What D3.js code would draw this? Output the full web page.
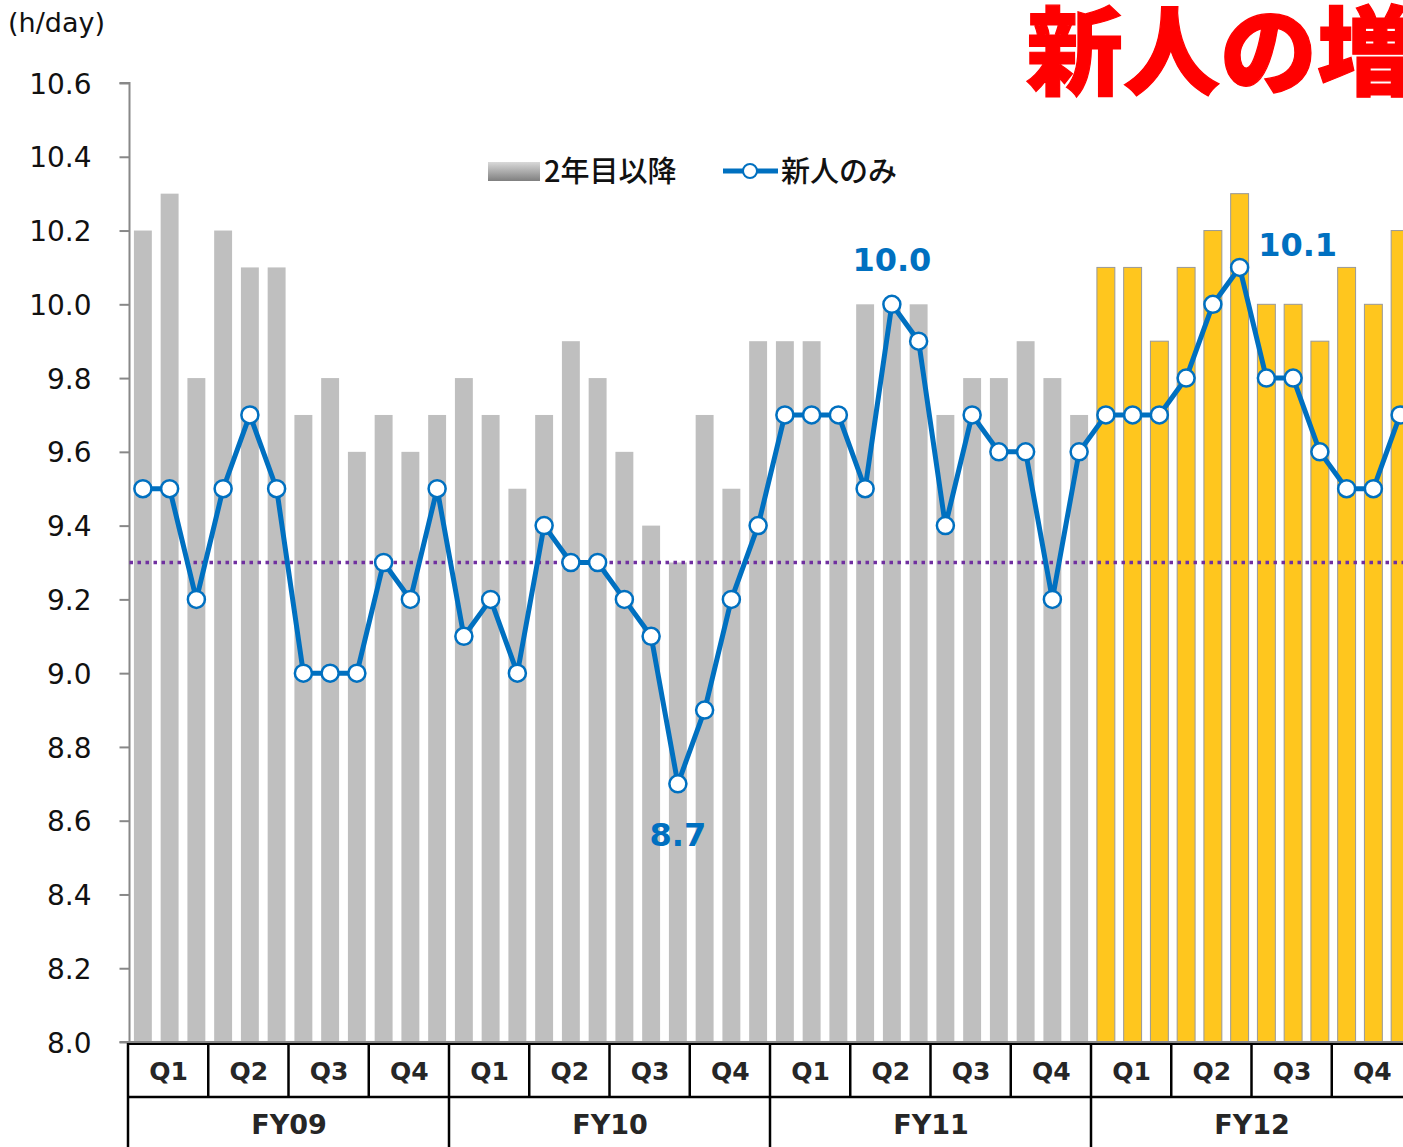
<!DOCTYPE html>
<html>
<head>
<meta charset="utf-8">
<script src="https://d3js.org/d3.v7.min.js"></script>
<style>
body { margin:0; background:#fff; overflow:hidden; }
svg { display:block; }
.ytick { font-family:"DejaVu Sans",sans-serif; font-size:28px; fill:#111; }
.cat { font-family:"DejaVu Sans",sans-serif; font-weight:bold; fill:#262626; }
.val { font-family:"DejaVu Sans",sans-serif; font-weight:bold; font-size:32px; fill:#0070C0; }
.leg { font-family:"Noto Sans CJK JP",sans-serif; font-weight:500; font-size:29px; fill:#111; }
</style>
</head>
<body>
<svg id="chart"></svg>
<script>
// months, FY09 Q1 .. FY12 Q4 (3 per quarter)
var years = ["FY09","FY10","FY11","FY12"];
var quarters = ["Q1","Q2","Q3","Q4"];
var yTicks = [8.0,8.2,8.4,8.6,8.8,9.0,9.2,9.4,9.6,9.8,10.0,10.2,10.4,10.6];

// 2年目以降 (bars)
var seniorHours = [10.2,10.3,9.8, 10.2,10.1,10.1, 9.7,9.8,9.6, 9.7,9.6,9.7,
                   9.8,9.7,9.5, 9.7,9.9,9.8, 9.6,9.4,9.3, 9.7,9.5,9.9,
                   9.9,9.9,9.7, 10.0,10.0,10.0, 9.7,9.8,9.8, 9.9,9.8,9.7,
                   10.1,10.1,9.9, 10.1,10.2,10.3, 10.0,10.0,9.9, 10.1,10.0,10.2];
// 新人のみ (line)
var newHours = [9.5,9.5,9.2, 9.5,9.7,9.5, 9.0,9.0,9.0, 9.3,9.2,9.5,
                9.1,9.2,9.0, 9.4,9.3,9.3, 9.2,9.1,8.7, 8.9,9.2,9.4,
                9.7,9.7,9.7, 9.5,10.0,9.9, 9.4,9.7,9.6, 9.6,9.2,9.6,
                9.7,9.7,9.7, 9.8,10.0,10.1, 9.8,9.8,9.6, 9.5,9.5,9.7];
var refLine = 9.3;
var callouts = [{idx:20, text:"8.7", dy:51}, {idx:28, text:"10.0", dy:-45}, {idx:41, text:"10.1", dy:-23, dx:58}];

var screen = {width:1403, height:1147};
var plot = {left:129.5, top:83, bottom:1042, step:26.75};

var svg = d3.select("#chart")
    .attr("width",screen.width)
    .attr("height",screen.height);

var idx = d3.range(newHours.length);

var xScale = d3.scaleBand()
    .domain(idx)
    .range([plot.left, plot.left + plot.step*idx.length])
    .paddingInner(0.33)
    .paddingOuter(0.165);

var yScale = d3.scaleLinear()
    .domain([8.0,10.6])
    .range([plot.bottom, plot.top]);

var defs = svg.append("defs");
var grad = defs.append("linearGradient")
    .attr("id","legGrad")
    .attr("x1",0).attr("y1",0).attr("x2",0).attr("y2",1);
grad.append("stop").attr("offset","0%").attr("stop-color","#d9d9d9");
grad.append("stop").attr("offset","100%").attr("stop-color","#7f7f7f");

// bars
svg.append("g")
    .selectAll("rect")
    .data(idx)
    .enter()
    .append("rect")
    .attr("x", function(i){return xScale(i)})
    .attr("y", function(i){return yScale(seniorHours[i])})
    .attr("width", xScale.bandwidth())
    .attr("height", function(i){return yScale(8.0) - yScale(seniorHours[i])})
    .style("fill", function(i){return i >= 36 ? "#FFC61E" : "#BFBFBF"})
    .style("stroke", function(i){return i >= 36 ? "#999" : "none"})
    .style("stroke-width", 1);

// y axis
var yAxis = d3.axisLeft(yScale)
    .tickValues(yTicks)
    .tickSize(10)
    .tickFormat(d3.format(".1f"));
var ax = svg.append("g")
    .attr("transform","translate(" + plot.left + ",0)")
    .call(yAxis);
ax.select(".domain").attr("stroke","#888").attr("stroke-width",2).attr("d","M-10," + plot.top + "H0V" + plot.bottom);
ax.selectAll(".tick line").attr("stroke","#888").attr("stroke-width",2);
ax.selectAll(".tick text")
    .attr("class","ytick")
    .attr("x",-38)
    .attr("dy","0.36em")
    .attr("font-size",null)
    .attr("font-family",null)
    .attr("fill",null);

svg.append("line")
    .attr("x1",plot.left-10).attr("x2",screen.width)
    .attr("y1",plot.bottom).attr("y2",plot.bottom)
    .attr("stroke","#888").attr("stroke-width",2);

// reference dotted line
svg.append("line")
    .attr("x1",plot.left).attr("x2",screen.width)
    .attr("y1",yScale(refLine)).attr("y2",yScale(refLine))
    .attr("stroke","#7030A0").attr("stroke-width",3.5)
    .attr("stroke-dasharray","3.5,4.5");

// line
var line = d3.line()
    .x(function(i){return xScale(i) + xScale.bandwidth()/2})
    .y(function(i){return yScale(newHours[i])});
svg.append("path")
    .datum(idx)
    .attr("d",line)
    .attr("fill","none")
    .attr("stroke","#0070C0")
    .attr("stroke-width",5)
    .attr("stroke-linejoin","round");
svg.append("g")
    .selectAll("circle")
    .data(idx)
    .enter()
    .append("circle")
    .attr("cx", function(i){return xScale(i) + xScale.bandwidth()/2})
    .attr("cy", function(i){return yScale(newHours[i])})
    .attr("r",8.5)
    .attr("fill","#fff")
    .attr("stroke","#0070C0")
    .attr("stroke-width",2.5);

// callouts
svg.append("g")
    .selectAll("text")
    .data(callouts)
    .enter()
    .append("text")
    .attr("class","val")
    .attr("text-anchor","middle")
    .attr("x", function(c){return xScale(c.idx) + xScale.bandwidth()/2 + (c.dx || 0)})
    .attr("y", function(c){return yScale(newHours[c.idx]) + c.dy})
    .attr("dy","0.36em")
    .text(function(c){return c.text});

// category table
var qw = plot.step*3;
var cat = svg.append("g");
var qData = [];
years.forEach(function(y,yi){
    quarters.forEach(function(q,qi){ qData.push({label:q, k:yi*4+qi}); });
});
cat.selectAll(".qtxt")
    .data(qData)
    .enter()
    .append("text")
    .attr("class","cat")
    .attr("font-size",25)
    .attr("text-anchor","middle")
    .attr("x", function(d){return plot.left - 1 + qw*(d.k+0.5)})
    .attr("y",1071)
    .attr("dy","0.36em")
    .text(function(d){return d.label});
cat.selectAll(".ytxt")
    .data(years)
    .enter()
    .append("text")
    .attr("class","cat")
    .attr("font-size",27)
    .attr("text-anchor","middle")
    .attr("x", function(d,i){return plot.left - 1 + qw*4*(i+0.5)})
    .attr("y",1124)
    .attr("dy","0.36em")
    .text(function(d){return d});
cat.selectAll(".qline")
    .data(d3.range(17))
    .enter()
    .append("line")
    .attr("x1", function(k){return plot.left - 1.5 + qw*k})
    .attr("x2", function(k){return plot.left - 1.5 + qw*k})
    .attr("y1",1043)
    .attr("y2", function(k){return k % 4 == 0 ? screen.height : 1097})
    .attr("stroke","#000").attr("stroke-width",2.5);
cat.append("line")
    .attr("x1",plot.left-2.5).attr("x2",screen.width)
    .attr("y1",1044).attr("y2",1044)
    .attr("stroke","#000").attr("stroke-width",2);
cat.append("line")
    .attr("x1",plot.left-2.5).attr("x2",screen.width)
    .attr("y1",1097).attr("y2",1097)
    .attr("stroke","#000").attr("stroke-width",2.5);

// legend
var leg = svg.append("g");
leg.append("rect")
    .attr("x",488).attr("y",162).attr("width",52).attr("height",19)
    .attr("fill","url(#legGrad)");
leg.append("text").attr("class","leg").attr("x",544).attr("y",172).attr("dy","0.36em").text("2年目以降");
leg.append("line")
    .attr("x1",723).attr("x2",778).attr("y1",171).attr("y2",171)
    .attr("stroke","#0070C0").attr("stroke-width",5);
leg.append("circle")
    .attr("cx",750).attr("cy",171).attr("r",7)
    .attr("fill","#fff").attr("stroke","#0070C0").attr("stroke-width",2);
leg.append("text").attr("class","leg").attr("x",781).attr("y",172).attr("dy","0.36em").text("新人のみ");

// unit and title
svg.append("text")
    .attr("x",8).attr("y",22).attr("dy","0.36em")
    .style("font-family","DejaVu Sans, sans-serif")
    .style("font-size","27px")
    .style("fill","#111")
    .text("(h/day)");
svg.append("text")
    .attr("x",1026).attr("y",52).attr("dy","0.36em")
    .style("font-family","Noto Sans CJK JP, sans-serif")
    .style("font-weight",900)
    .style("font-size","97px")
    .style("fill","#FF0000")
    .style("stroke","#FF0000")
    .style("stroke-width",1.2)
    .text("新人の増");
</script>
</body>
</html>
